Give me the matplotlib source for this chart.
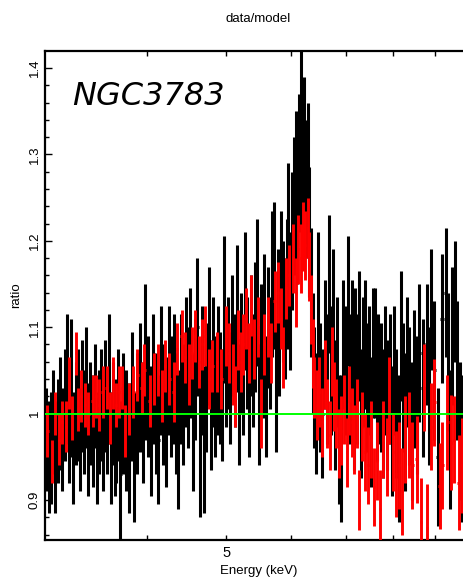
import numpy as np
import matplotlib
matplotlib.use("Agg")
import matplotlib.pyplot as plt
from matplotlib.ticker import FixedLocator, FixedFormatter, NullLocator

# ---------------- data ----------------
black_energy = [
    3.01, 3.03, 3.05, 3.07, 3.09, 3.11, 3.13, 3.15, 3.17, 3.19, 3.21, 3.23, 3.25, 3.27, 3.29, 3.31, 3.33, 3.35,
    3.37, 3.39, 3.41, 3.43, 3.45, 3.47, 3.49, 3.51, 3.53, 3.55, 3.57, 3.59, 3.61, 3.63, 3.65, 3.67, 3.69,
    3.71, 3.74, 3.77, 3.80, 3.83, 3.86, 3.89, 3.92, 3.95, 3.98, 4.01, 4.04, 4.07, 4.10, 4.13, 4.16, 4.19, 4.22,
    4.25, 4.28, 4.31, 4.34, 4.37, 4.40, 4.43, 4.46, 4.49, 4.52, 4.55, 4.58, 4.61, 4.64, 4.67, 4.70, 4.73, 4.76,
    4.79, 4.82, 4.85, 4.88,
    4.91, 4.94, 4.97, 5.00, 5.03, 5.06, 5.09, 5.12, 5.15, 5.18, 5.21, 5.24, 5.27, 5.30, 5.33, 5.36, 5.39, 5.42,
    5.45, 5.48, 5.51, 5.54, 5.57, 5.60, 5.63, 5.66, 5.69, 5.72, 5.75, 5.78, 5.81, 5.84, 5.87, 5.90, 5.93, 5.96, 5.99,
    6.02, 6.05, 6.08, 6.11, 6.14, 6.17, 6.20, 6.23, 6.26, 6.29, 6.32, 6.35, 6.38, 6.41, 6.44,
    6.48, 6.52, 6.56, 6.60, 6.64, 6.68, 6.72, 6.76, 6.80, 6.84, 6.88, 6.92, 6.96, 7.00, 7.04, 7.08, 7.12, 7.16,
    7.20, 7.24, 7.28, 7.32, 7.36, 7.40, 7.44, 7.48, 7.52, 7.56, 7.60, 7.64, 7.68,
    7.73, 7.78, 7.83, 7.88, 7.93, 7.98, 8.03, 8.08, 8.13, 8.18, 8.23, 8.28, 8.33, 8.38, 8.44, 8.50, 8.56, 8.62,
    8.70, 8.80, 8.86, 8.92, 8.99, 9.08, 9.18, 9.29, 9.34, 9.39, 9.46, 9.53, 9.58, 9.66, 9.73,
]
black_ratio = [
    0.97, 0.95, 0.96, 0.99, 0.95, 0.98, 1.00, 0.97, 1.01, 1.04, 0.98, 1.03, 0.96, 1.00, 1.01, 0.97, 1.02, 0.99,
    1.03, 0.97, 1.00, 0.98, 1.02, 0.96, 0.99, 1.01, 0.97, 1.02, 0.99, 1.04, 0.96, 1.00, 0.97, 0.98, 1.01,
    0.93, 1.00, 0.98, 0.96, 1.02, 0.95, 1.00, 1.03, 0.99, 1.06, 1.02, 0.98, 1.04, 1.00, 0.97, 1.05, 1.01, 0.99,
    1.05, 1.02, 1.04, 1.00, 0.97, 1.04, 1.01, 1.06, 1.03, 1.07, 0.99, 1.04, 1.10, 0.96, 1.05, 0.97, 1.03, 1.09,
    1.01, 1.06, 1.02, 1.05,
    1.03, 1.01, 1.12, 1.05, 1.07, 1.03, 1.09, 1.05, 1.11, 1.01, 1.07, 1.04, 1.13, 1.07, 1.02, 1.09, 1.05, 1.10,
    1.14, 1.01, 1.08, 1.06, 1.11, 1.02, 1.10, 1.07, 1.15, 1.16, 1.03, 1.12, 1.09, 1.16, 1.13, 1.11, 1.15, 1.20, 1.13,
    1.20, 1.24, 1.27, 1.23, 1.29, 1.33, 1.28, 1.31, 1.26, 1.28, 1.21, 1.14, 1.07, 1.03, 1.00,
    1.13, 1.03, 1.00, 1.08, 1.04, 1.15, 1.05, 1.11, 1.01, 1.06, 0.97, 0.96, 1.08, 1.05, 1.13, 1.04, 1.08, 1.01,
    1.07, 1.04, 1.09, 1.00, 1.06, 1.08, 1.03, 1.05, 0.99, 1.07, 1.07, 1.02, 1.04,
    1.03, 1.00, 1.05, 1.01, 1.04, 0.98, 1.05, 1.00, 0.96, 1.09, 1.03, 0.99, 1.06, 1.02, 0.98, 1.04, 1.01, 1.07,
    1.03, 1.08, 1.02, 1.12, 1.05, 0.95, 1.11, 1.14, 1.06, 0.97, 1.09, 1.13, 1.05, 0.98, 0.96,
]
black_error = [
    0.060, 0.065, 0.065, 0.060, 0.065, 0.060, 0.065, 0.060, 0.065, 0.075, 0.060, 0.080, 0.065, 0.060, 0.065, 0.060, 0.065, 0.060,
    0.070, 0.065, 0.060, 0.065, 0.060, 0.065, 0.060, 0.065, 0.060, 0.065, 0.060, 0.075, 0.065, 0.060, 0.065, 0.060, 0.065,
    0.085, 0.070, 0.070, 0.075, 0.075, 0.075, 0.070, 0.075, 0.070, 0.090, 0.070, 0.075, 0.075, 0.070, 0.075, 0.075, 0.070, 0.075,
    0.075, 0.070, 0.075, 0.070, 0.080, 0.075, 0.070, 0.075, 0.070, 0.075, 0.080, 0.070, 0.080, 0.080, 0.075, 0.085, 0.075, 0.080,
    0.075, 0.075, 0.070, 0.075,
    0.065, 0.065, 0.085, 0.065, 0.065, 0.065, 0.070, 0.065, 0.085, 0.070, 0.070, 0.065, 0.080, 0.065, 0.070, 0.070, 0.065, 0.075,
    0.085, 0.070, 0.070, 0.065, 0.075, 0.070, 0.070, 0.065, 0.085, 0.085, 0.075, 0.070, 0.070, 0.075, 0.070, 0.070, 0.075, 0.090, 0.080,
    0.080, 0.080, 0.080, 0.080, 0.080, 0.095, 0.080, 0.080, 0.080, 0.080, 0.075, 0.075, 0.070, 0.070, 0.070,
    0.080, 0.075, 0.075, 0.075, 0.075, 0.080, 0.075, 0.080, 0.075, 0.075, 0.075, 0.085, 0.075, 0.075, 0.075, 0.075, 0.075, 0.075,
    0.075, 0.075, 0.075, 0.075, 0.075, 0.075, 0.075, 0.075, 0.075, 0.075, 0.075, 0.075, 0.075,
    0.075, 0.075, 0.075, 0.075, 0.075, 0.075, 0.075, 0.075, 0.085, 0.075, 0.075, 0.080, 0.075, 0.080, 0.080, 0.080, 0.080, 0.080,
    0.080, 0.070, 0.080, 0.070, 0.080, 0.080, 0.075, 0.075, 0.080, 0.080, 0.080, 0.070, 0.080, 0.080, 0.085,
]

red_energy = [
    3.02, 3.06, 3.09, 3.12, 3.15, 3.18, 3.21, 3.24, 3.27, 3.29, 3.32, 3.36, 3.39, 3.43, 3.46, 3.49, 3.53, 3.57,
    3.60, 3.63, 3.66, 3.70, 3.73, 3.76,
    3.80, 3.85, 3.89, 3.94, 3.97, 4.03, 4.08, 4.13, 4.17, 4.21, 4.26, 4.31, 4.35, 4.41, 4.45, 4.50, 4.54, 4.58,
    4.63, 4.67, 4.71, 4.76, 4.81,
    4.87, 4.93, 5.00, 5.04, 5.10, 5.13, 5.17, 5.21, 5.25, 5.29, 5.33, 5.36, 5.41, 5.47, 5.51, 5.56, 5.63, 5.67,
    5.73, 5.79, 5.84, 5.87, 5.92, 5.97,
    6.04, 6.09, 6.13, 6.17, 6.21, 6.25, 6.29, 6.32, 6.35, 6.38, 6.41,
    6.46, 6.50, 6.55, 6.60, 6.65, 6.70, 6.74, 6.78, 6.82, 6.87, 6.92, 6.98, 7.02, 7.07, 7.12, 7.17, 7.24, 7.28,
    7.34, 7.40, 7.45, 7.52, 7.59, 7.65,
    7.72, 7.79, 7.86, 7.92, 8.00, 8.07, 8.14, 8.21, 8.28, 8.38, 8.45, 8.56, 8.67, 8.73, 8.80, 8.92, 8.99, 9.13,
    9.19, 9.33, 9.43, 9.50, 9.64, 9.71,
]
red_ratio = [
    0.980, 0.945, 1.000, 0.970, 0.990, 0.985, 1.035, 0.995, 1.070, 1.005, 1.020, 1.010, 1.000, 1.015, 1.020, 1.010, 1.025, 1.030,
    0.995, 1.035, 1.010, 1.025, 1.030, 0.980,
    1.005, 1.025, 1.045, 1.030, 1.050, 1.015, 1.040, 1.050, 1.020, 1.055, 1.040, 1.025, 1.075, 1.090, 1.065, 1.045, 1.070, 1.090,
    1.060, 1.080, 1.090, 1.040, 1.055,
    1.060, 1.040, 1.090, 1.070, 1.045, 1.020, 1.085, 1.060, 1.080, 1.110, 1.070, 1.125, 1.075, 1.100, 1.000, 1.080, 1.100, 1.070,
    1.130, 1.140, 1.110, 1.065, 1.145, 1.160,
    1.180, 1.140, 1.190, 1.180, 1.205, 1.195, 1.215, 1.170, 1.120, 1.070, 1.030,
    1.010, 1.025, 0.990, 1.045, 1.000, 0.975, 1.060, 1.020, 1.000, 0.965, 0.980, 1.005, 0.955, 1.015, 0.990, 0.970, 1.000, 0.900,
    0.985, 0.955, 0.940, 0.970, 0.915, 0.945,
    0.890, 0.970, 0.950, 1.015, 0.955, 0.930, 0.940, 0.910, 0.970, 0.975, 0.940, 0.947, 0.875, 1.030, 0.868, 0.985, 1.013, 0.916,
    0.940, 0.990, 0.966, 0.970, 0.920, 0.940,
]
red_error = [
    0.030, 0.025, 0.025, 0.030, 0.025, 0.030, 0.030, 0.025, 0.025, 0.025, 0.030, 0.025, 0.025, 0.030, 0.025, 0.030, 0.030, 0.025,
    0.030, 0.030, 0.025, 0.030, 0.025, 0.030,
    0.030, 0.030, 0.030, 0.030, 0.030, 0.030, 0.030, 0.030, 0.030, 0.030, 0.030, 0.035, 0.030, 0.030, 0.030, 0.035, 0.030, 0.030,
    0.030, 0.030, 0.035, 0.035, 0.030,
    0.035, 0.035, 0.035, 0.035, 0.035, 0.035, 0.035, 0.035, 0.035, 0.035, 0.035, 0.035, 0.035, 0.035, 0.040, 0.035, 0.035, 0.035,
    0.035, 0.035, 0.035, 0.035, 0.035, 0.035,
    0.040, 0.040, 0.040, 0.040, 0.040, 0.040, 0.035, 0.040, 0.040, 0.040, 0.035,
    0.040, 0.040, 0.040, 0.040, 0.040, 0.040, 0.040, 0.040, 0.040, 0.040, 0.040, 0.040, 0.040, 0.040, 0.040, 0.040, 0.040, 0.035,
    0.040, 0.045, 0.045, 0.045, 0.045, 0.045,
    0.045, 0.045, 0.045, 0.050, 0.045, 0.050, 0.050, 0.050, 0.050, 0.050, 0.050, 0.050, 0.050, 0.050, 0.050, 0.050, 0.050, 0.050,
    0.050, 0.055, 0.055, 0.050, 0.055, 0.055,
]

reference_ratio = 1.0
ytick_values = [0.9, 1.0, 1.1, 1.2, 1.3, 1.4]
ytick_labels = ["0.9", "1", "1.1", "1.2", "1.3", "1.4"]
xtick_values = [4, 5, 6, 7, 8, 9]
xtick_labels = ["", "5", "", "", "", ""]
source_name = "NGC3783"


def bin_halfwidths(e, frac):
    e = np.asarray(e)
    d = np.diff(e)
    lo = np.concatenate([[d[0]], d]) * frac
    hi = np.concatenate([d, [d[-1]]]) * frac
    return np.vstack([lo, hi])


label_font = ["Liberation Sans", "DejaVu Sans"]

W, H = 463, 582
fig = plt.figure(figsize=(W / 100, H / 100), dpi=100)
left_px, right_px, top_px, bot_px = 45, 472, 51, 540
ax = fig.add_axes([left_px / W, 1 - bot_px / H, (right_px - left_px) / W, (bot_px - top_px) / H])

ax.errorbar(black_energy, black_ratio, yerr=black_error, xerr=bin_halfwidths(black_energy, 0.5),
            fmt="none", ecolor="black", elinewidth=2.2, capsize=0, zorder=2)
ax.errorbar(red_energy, red_ratio, yerr=red_error, xerr=bin_halfwidths(red_energy, 0.3),
            fmt="none", ecolor="#ff0000", elinewidth=2.1, capsize=0, zorder=3)
ax.axhline(reference_ratio, color="#00ff00", lw=1.4, zorder=4)

ax.set_xscale("log")
ax.set_xlim(3.0, 10.0)
ax.set_ylim(0.8537, 1.4197)

ax.xaxis.set_major_locator(FixedLocator(xtick_values))
ax.xaxis.set_major_formatter(FixedFormatter(xtick_labels))
ax.xaxis.set_minor_locator(NullLocator())
ax.yaxis.set_major_locator(FixedLocator(ytick_values))
ax.yaxis.set_major_formatter(FixedFormatter(ytick_labels))
ax.yaxis.set_minor_locator(FixedLocator(list(np.round(np.arange(0.86, 1.42, 0.02), 2))))

ax.tick_params(axis="both", which="both", direction="in", top=True, right=True, width=1.0)
ax.tick_params(axis="y", which="major", length=5, pad=3)
ax.tick_params(axis="y", which="minor", length=3)
ax.tick_params(axis="x", which="major", length=3.5, pad=4)
for lab in ax.get_yticklabels():
    lab.set_rotation(90)
    lab.set_va("center")
    lab.set_family(label_font)
    lab.set_fontsize(9.5)
for lab in ax.get_xticklabels():
    lab.set_family(label_font)
    lab.set_fontsize(10.5)

for s in ax.spines.values():
    s.set_linewidth(1.6)

ax.set_title("data/model", family=label_font, fontsize=9.5, pad=21)
ax.set_xlabel("Energy (keV)", family=label_font, fontsize=9.5, labelpad=4)
ax.set_ylabel("ratio", family=label_font, fontsize=9.5, labelpad=5)

ax.text((72 - left_px) / (right_px - left_px), (bot_px - 105) / (bot_px - top_px), source_name,
        transform=ax.transAxes, fontsize=23, style="italic", family="DejaVu Sans",
        ha="left", va="baseline")

fig.savefig("out.png", dpi=100)
